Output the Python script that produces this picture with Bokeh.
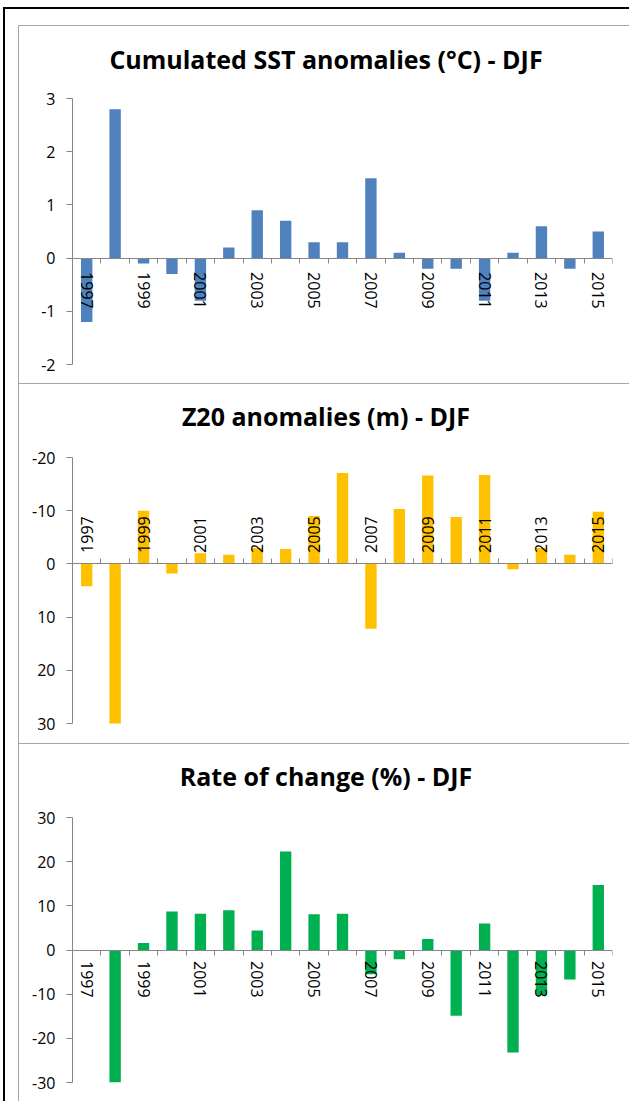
from bokeh.plotting import figure
from bokeh.models import Range1d, LinearAxis, FixedTicker, Div, Spacer
from bokeh.layouts import column, row
from bokeh.embed import file_html
from bokeh.resources import INLINE

# ---------------- data ----------------
years = list(range(1997, 2016))
label_years = list(range(1997, 2016, 2))

sst_title = "Cumulated SST anomalies (°C) - DJF"
sst_values = [-1.2, 2.8, -0.1, -0.3, -0.8, 0.2, 0.9, 0.7, 0.3, 0.3,
              1.5, 0.1, -0.2, -0.2, -0.8, 0.1, 0.6, -0.2, 0.5]
sst_ticks = [-2, -1, 0, 1, 2, 3]

z20_title = "Z20 anomalies (m) - DJF"
z20_values = [4.2, 30.3, -10.0, 1.8, -2.0, -1.7, -3.0, -2.8, -9.0, -17.1,
              12.2, -10.3, -16.6, -8.8, -16.7, 1.0, -3.0, -1.7, -9.8]
z20_ticks = [-20, -10, 0, 10, 20, 30]

rate_title = "Rate of change (%) - DJF"
rate_values = [0.0, -30.0, 1.6, 8.7, 8.2, 9.0, 4.4, 22.3, 8.1, 8.2,
               -5.5, -2.1, 2.5, -14.9, 6.0, -23.2, -10.2, -6.7, 14.7]
rate_ticks = [-30, -20, -10, 0, 10, 20, 30]

# ---------------- style ----------------
FONT = "Open Sans"
AXIS_GREY = "#868686"
BORDER_GREY = "#a6a6a6"
FIG_W = 610
FRAME_LEFT = 53
FRAME_RIGHT = 17
TITLE_H = 50


def make_title(text, pad_top):
    html = ('<div style="box-sizing:border-box;width:%dpx;padding-left:4px;'
            'padding-top:%dpx;line-height:30px;font-family:\'%s\';font-weight:bold;'
            'font-size:25px;color:black;text-align:center;white-space:nowrap;">%s</div>'
            % (FIG_W, pad_top, FONT, text))
    return Div(text=html, width=FIG_W, height=TITLE_H, margin=0,
               styles={"background-color": "white"})


def make_panel(values, color, y_start, y_end, yticks, height,
               border_top, border_bottom, labels_side, label_standoff):
    boundaries = [y - 0.5 for y in years] + [years[-1] + 0.5]
    p = figure(width=FIG_W, height=height,
               x_range=Range1d(years[0] - 0.5, years[-1] + 0.5),
               y_range=Range1d(y_start, y_end),
               output_backend="svg", toolbar_location=None, title=None,
               x_axis_location=None,
               min_border_left=FRAME_LEFT, min_border_right=FRAME_RIGHT,
               min_border_top=border_top, min_border_bottom=border_bottom)
    p.outline_line_color = None
    p.xgrid.visible = False
    p.ygrid.visible = False
    p.background_fill_color = "white"
    p.border_fill_color = "white"

    p.vbar(x=years, top=values, bottom=0, width=0.4,
           fill_color=color, line_color=None)

    ya = p.yaxis[0]
    ya.ticker = FixedTicker(ticks=yticks)
    ya.major_label_overrides = {t: str(t) for t in yticks}
    ya.axis_line_color = AXIS_GREY
    ya.major_tick_line_color = AXIS_GREY
    ya.minor_tick_line_color = None
    ya.major_tick_out = 6
    ya.major_tick_in = 0
    ya.major_label_standoff = 11
    ya.major_label_text_font = FONT
    ya.major_label_text_font_size = "16px"
    ya.major_label_text_color = "black"

    tick_axis = LinearAxis(ticker=FixedTicker(ticks=boundaries), fixed_location=0,
                           axis_line_color=AXIS_GREY, major_tick_line_color=AXIS_GREY,
                           minor_tick_line_color=None, major_tick_out=5, major_tick_in=0,
                           major_label_text_color=None)
    label_axis = LinearAxis(ticker=FixedTicker(ticks=label_years), fixed_location=0,
                            axis_line_color=None, major_tick_line_color=None,
                            minor_tick_line_color=None, major_tick_out=0, major_tick_in=0,
                            major_label_orientation="vertical",
                            major_label_standoff=label_standoff,
                            major_label_overrides={y: str(y) for y in label_years},
                            major_label_text_font=FONT,
                            major_label_text_font_size="16px",
                            major_label_text_color="black")
    p.add_layout(tick_axis, labels_side)
    p.add_layout(label_axis, labels_side)
    return p


# panel heights (title + figure): 357, 359, 357
p1 = make_panel(sst_values, "#4F81BD", sst_ticks[0], sst_ticks[-1], sst_ticks,
                357 - TITLE_H, 22, 19, "below", 14)
p2 = make_panel(z20_values, "#FFC000", z20_ticks[-1], z20_ticks[0], z20_ticks,
                359 - TITLE_H, 23, 20, "above", 11)
p3 = make_panel(rate_values, "#00B050", rate_ticks[0], rate_ticks[-1], rate_ticks,
                357 - TITLE_H, 23, 19, "below", 11)

t1 = make_title(sst_title, 18)
t2 = make_title(z20_title, 17)
t3 = make_title(rate_title, 17)


def bar(w, h, c):
    return Div(width=w, height=h, margin=0, styles={"background-color": c})


inner = column(bar(FIG_W, 1, BORDER_GREY), t1, p1, bar(FIG_W, 1, BORDER_GREY), t2, p2,
               bar(FIG_W, 1, BORDER_GREY), t3, p3, spacing=0)
inner_row = row(Spacer(width=13, height=1076), bar(1, 1076, BORDER_GREY), inner, spacing=0)
right_col = column(bar(624, 2, "black"), Spacer(width=624, height=16), inner_row, spacing=0)
main_row = row(Spacer(width=3, height=1094), bar(2, 1094, "black"), right_col, spacing=0)
layout = column(Spacer(width=629, height=7), main_row, spacing=0)

open("out.html", "w").write(file_html(layout, INLINE))
